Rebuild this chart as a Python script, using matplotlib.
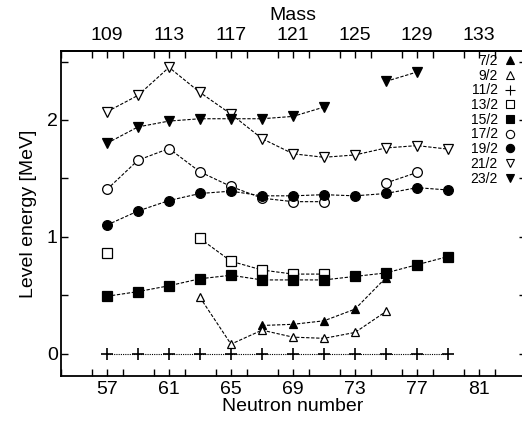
import numpy as np
import matplotlib
matplotlib.use("Agg")
import matplotlib.pyplot as plt
from matplotlib.lines import Line2D
from matplotlib.ticker import MultipleLocator

plt.rcParams['font.family'] = ['Liberation Sans', 'DejaVu Sans']

nan = np.nan
neutrons = [57, 59, 61, 63, 65, 67, 69, 71, 73, 75, 77, 79]

# level energies (MeV) per spin, nan = not observed
e_7_2 = [nan, nan, nan, nan, nan, 0.24, 0.25, 0.28, 0.38, 0.65, nan, nan]
e_9_2 = [nan, nan, nan, 0.48, 0.08, 0.20, 0.14, 0.13, 0.18, 0.36, nan, nan]
e_11_2 = [0, 0, 0, 0, 0, 0, 0, 0, 0, 0, 0, 0]
e_13_2 = [0.86, nan, nan, 0.985, 0.79, 0.715, 0.68, 0.68, nan, nan, nan, nan]
e_15_2 = [0.49, 0.53, 0.58, 0.64, 0.67, 0.63, 0.63, 0.63, 0.66, 0.69, 0.76, 0.83]
e_17_2 = [1.405, 1.655, 1.755, 1.555, 1.43, 1.33, 1.30, 1.30, nan, 1.46, 1.55, nan]
e_19_2 = [1.10, 1.22, 1.31, 1.37, 1.39, 1.35, 1.35, 1.36, 1.35, 1.37, 1.42, 1.40]
e_21_2 = [2.07, 2.21, 2.45, 2.235, 2.05, 1.84, 1.71, 1.68, 1.70, 1.76, 1.78, 1.75]
e_23_2 = [1.80, 1.94, 1.99, 2.01, 2.01, 2.01, 2.03, 2.11, nan, 2.33, 2.41, nan]

spins = ['7/2', '9/2', '11/2', '13/2', '15/2', '17/2', '19/2', '21/2', '23/2']
energies = [e_7_2, e_9_2, e_11_2, e_13_2, e_15_2, e_17_2, e_19_2, e_21_2, e_23_2]
markers = ['^', '^', '+', 's', 's', 'o', 'o', 'v', 'v']
filled = [True, False, True, False, True, False, True, False, True]
sizes = [6, 6, 9, 6.5, 6.5, 7, 7, 7, 7]

fig = plt.figure(figsize=(5.22, 4.26), dpi=100)
ax = fig.add_axes([60.5 / 522, 50.3 / 426, 465 / 522, 324.7 / 426])

handles = []
for lab, e, m, f, s in zip(spins, energies, markers, filled, sizes):
    ls = (0, (1, 1)) if lab == '11/2' else (0, (3, 1.5))
    ax.plot(neutrons, e, linestyle=ls, color='black', linewidth=0.8,
            marker=m, markersize=s, markerfacecolor='black' if f else 'white',
            markeredgecolor='black', markeredgewidth=0.9 if m != '+' else 1.2)
    handles.append(Line2D([], [], linestyle='none', marker=m, markersize=s * 0.85,
                          markerfacecolor='black' if f else 'white',
                          markeredgecolor='black', markeredgewidth=0.8))

ax.set_xlim(54, 84)
ax.set_ylim(-0.19, 2.59)
ax.set_xticks(range(57, 82, 4))
ax.xaxis.set_minor_locator(MultipleLocator(2))
ax.yaxis.set_major_locator(MultipleLocator(1))
ax.yaxis.set_minor_locator(MultipleLocator(0.5))
ax.tick_params(which='both', direction='in', length=5, width=1, labelsize=14,
               right=True, top=False)
ax.tick_params(axis='x', pad=4)
ax.tick_params(axis='y', pad=2)
for sp in ax.spines.values():
    sp.set_linewidth(1.3)

ax.set_xlabel('Neutron number', fontsize=14, labelpad=0)
ax.set_ylabel('Level energy [MeV]', fontsize=14, labelpad=7)

top = ax.secondary_xaxis('top', functions=(lambda n: n + 52, lambda a: a - 52))
top.set_xticks(range(109, 134, 4))
top.xaxis.set_minor_locator(MultipleLocator(2))
top.tick_params(which='both', direction='in', length=5, width=1, labelsize=14, pad=5)
top.spines['top'].set_linewidth(1.3)
top.set_xlabel('Mass', fontsize=14, labelpad=5)

fig.legend(handles, spins, loc='upper right', bbox_to_anchor=(516 / 522, 372 / 426),
           frameon=False, markerfirst=False, fontsize=10, handlelength=0.8,
           handletextpad=0.5, labelspacing=0.05, borderpad=0, borderaxespad=0)

fig.savefig('out.png', dpi=100)
